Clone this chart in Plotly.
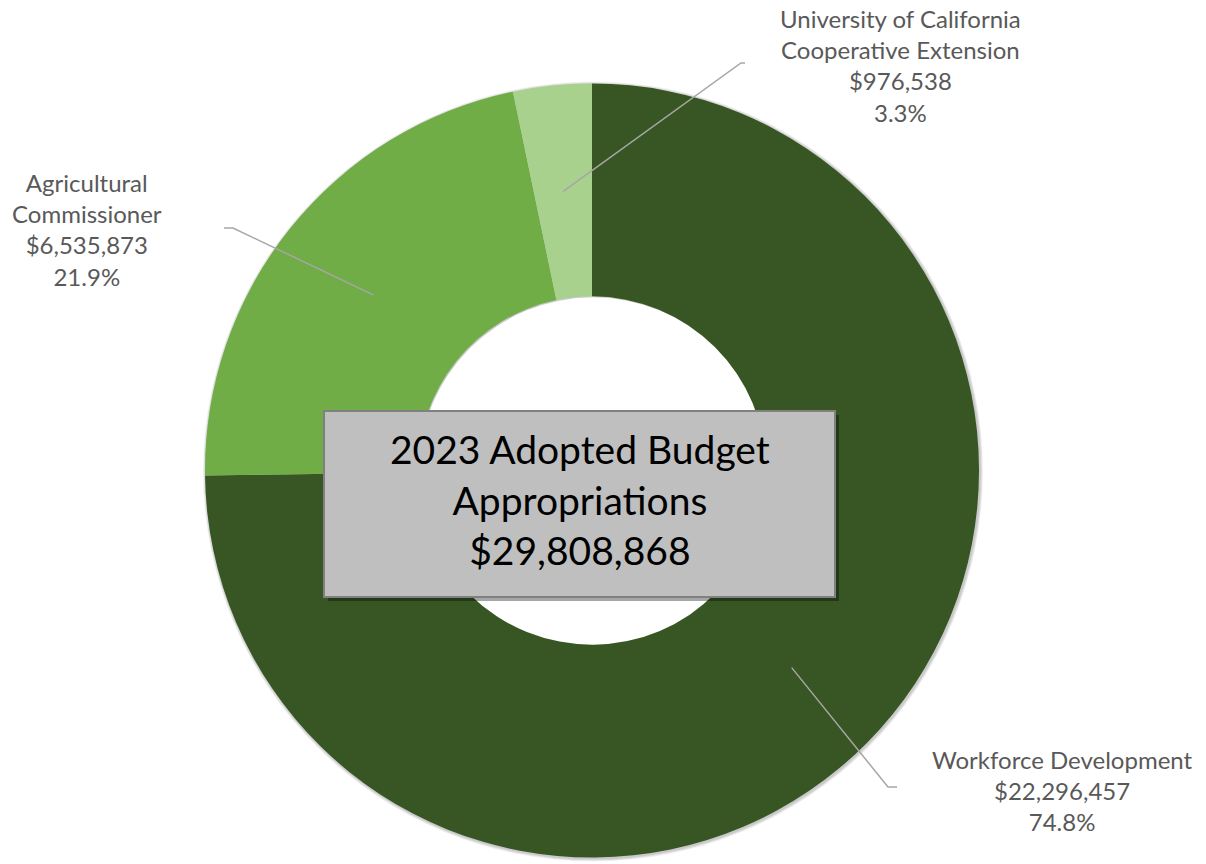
import math
import plotly.graph_objects as go

# Budget units and their 2023 adopted appropriations
units = ["Workforce Development", "Agricultural<br>Commissioner",
         "University of California<br>Cooperative Extension"]
amounts = [22296457, 6535873, 976538]
colors = ["#375623", "#70AD47", "#A9D18E"]
total_label = "$29,808,868"

W, H = 1206, 864
CX, CY, R = 592, 470.5, 387      # donut centre / outer radius (px)
HOLE = 0.45


def px(x):
    return x / W


def py(y):
    return min(1.0, max(0.0, 1 - y / H))


total = sum(amounts)
shares = [a / total for a in amounts]

fig = go.Figure()

# soft drop shadow under the ring
for off, alpha in [(3, 0.06), (2, 0.08), (1, 0.09)]:
    fig.add_trace(go.Pie(
        values=[1], marker=dict(colors=[f"rgba(0,0,0,{alpha})"]),
        hole=HOLE * R / (R + off), sort=False, textinfo="none", hoverinfo="skip",
        showlegend=False,
        domain=dict(x=[px(CX - R - off + 1), px(CX + R + off + 1)],
                    y=[py(CY + R + off + 1), py(CY - R - off + 1)]),
    ))

fig.add_trace(go.Pie(
    labels=units, values=amounts, hole=HOLE, sort=False,
    direction="clockwise", rotation=0,
    marker=dict(colors=colors, line=dict(width=0)),
    textinfo="none", hoverinfo="label+value+percent", showlegend=False,
    domain=dict(x=[px(CX - R), px(CX + R)], y=[py(CY + R), py(CY - R)]),
))

# label anchors: (elbow x, elbow y, end x, text x, text y)
label_layout = [
    (888, 787, 897, 1062, 790),
    (233, 228, 224, 87, 229),
    (741, 63, 745, 900, 66),
]

shapes = []
annotations = []
r_mid = R * (1 + HOLE) / 2
cum = 0.0
for name, amt, share, (ex, ey, endx, tx, ty) in zip(units, amounts, shares, label_layout):
    mid = (cum + share / 2) * 2 * math.pi
    cum += share
    sx = CX + r_mid * math.sin(mid)
    sy = CY - r_mid * math.cos(mid)
    path = (f"M {px(sx)},{py(sy)} L {px(ex)},{py(ey)} L {px(endx)},{py(ey)}")
    shapes.append(dict(type="path", xref="paper", yref="paper", path=path,
                       line=dict(color="#A6A6A6", width=1.5)))
    annotations.append(dict(
        x=px(tx), y=py(ty), xref="paper", yref="paper", showarrow=False,
        text=f"{name}<br>${amt:,.0f}<br>{share * 100:.1f}%",
        font=dict(family="Lato", size=24, color="#595959"), align="center",
        xanchor="center", yanchor="middle",
    ))

# centre title box with shadow
bx0, by0, bx1, by1 = 324, 411, 835, 597
shapes.append(dict(type="rect", xref="paper", yref="paper",
                   x0=px(bx0 + 4), x1=px(bx1 + 4), y0=py(by1 + 4), y1=py(by0 + 4),
                   fillcolor="rgba(0,0,0,0.35)", line=dict(width=0)))
shapes.append(dict(type="rect", xref="paper", yref="paper",
                   x0=px(bx0), x1=px(bx1), y0=py(by1), y1=py(by0),
                   fillcolor="#BFBFBF", line=dict(color="#808080", width=2)))
annotations.append(dict(
    x=px((bx0 + bx1) / 2), y=py(499), xref="paper", yref="paper", showarrow=False,
    text=f"2023 Adopted Budget<br>Appropriations<br>{total_label}",
    font=dict(family="Lato", size=39, color="#000000"), align="center",
    xanchor="center", yanchor="middle",
))

fig.update_layout(
    width=W, height=H, margin=dict(l=0, r=0, t=0, b=0),
    paper_bgcolor="white", plot_bgcolor="white",
    shapes=shapes, annotations=annotations,
)

fig.write_html("out.html")
